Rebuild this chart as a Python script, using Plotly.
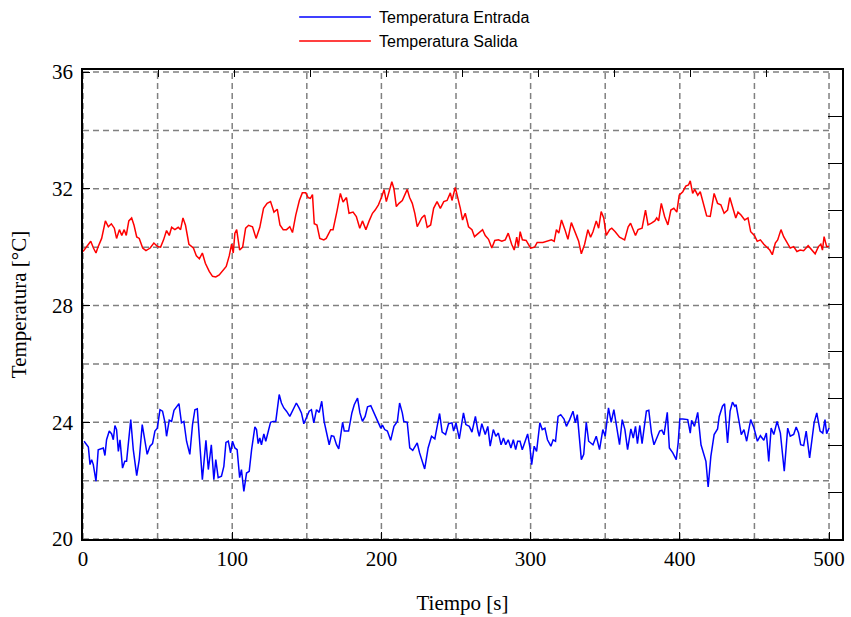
import plotly.graph_objects as go

# ---------------- data (time [s], temperature [°C]) ----------------
salida_pts = [
    (0, 29.85), (2.2, 30.0), (4, 30.15), (5.2, 30.2), (7, 29.97), (8.7, 29.8), (10, 30.0), (12.5, 30.3),
    (15, 30.9), (17, 30.7), (19, 30.8), (21, 30.65), (22.5, 30.3), (24.4, 30.6), (26, 30.4), (27.6, 30.6),
    (29, 30.4), (30.7, 30.9), (32.6, 31.0), (34.2, 30.75), (36, 30.35), (37.7, 30.3), (40, 29.97), (42.2, 29.88),
    (45, 29.97), (47.5, 30.14), (50, 30.02), (52, 30.0), (54, 30.25), (56, 30.57), (57.8, 30.4), (59.4, 30.68),
    (61.6, 30.6), (63.8, 30.68), (65.4, 30.6), (67, 31.0), (68.7, 30.75), (71, 30.1), (74, 29.97), (76, 29.7),
    (78, 29.6), (80, 29.8), (82, 29.45), (84.6, 29.17), (86.8, 29.0), (89, 28.98), (91.3, 29.05), (94, 29.2),
    (96, 29.34), (98, 29.7), (99.6, 30.1), (100.7, 29.8), (101.8, 30.48), (103, 30.6), (105, 29.9), (107, 30.0),
    (109, 30.65), (111, 30.75), (113.6, 30.7), (116, 30.3), (118.5, 30.68), (121, 31.33), (123.4, 31.5), (125.7, 31.56),
    (128, 31.2), (130.2, 31.3), (132, 30.76), (134.2, 30.6), (136.4, 30.6), (138.6, 30.7), (140.4, 30.5), (142.6, 31.1),
    (145, 31.6), (147, 31.86), (149.3, 31.86), (150.9, 31.7), (152.4, 31.67), (153.8, 31.8), (155, 30.8), (156.8, 30.76),
    (158.7, 30.3), (161.4, 30.25), (163, 30.3), (166, 30.6), (167.6, 30.6), (170.3, 31.25), (172.5, 31.84), (174.3, 31.55),
    (176.6, 31.7), (178.3, 31.16), (181, 31.2), (183.2, 31.05), (185.5, 30.65), (187.3, 30.9), (189.6, 30.6), (191.8, 30.9),
    (194, 31.16), (195.8, 31.27), (198, 31.45), (200, 31.7), (201.8, 31.97), (203.3, 31.56), (205, 31.84), (207, 32.24),
    (208.4, 32.0), (210, 31.39), (211.8, 31.5), (214, 31.6), (217.3, 31.98), (218.9, 31.7), (220.7, 31.5), (222.4, 31.16),
    (224, 30.7), (227, 31.0), (229, 31.1), (230.7, 30.68), (233, 30.76), (235, 31.33), (237.3, 31.56), (239.5, 31.33),
    (241.8, 31.56), (244, 31.6), (246.2, 31.86), (247.3, 31.6), (249.5, 32.05), (251.3, 31.7), (252.9, 31.33), (254.4, 30.93),
    (256.2, 31.16), (258.4, 30.7), (260.7, 30.6), (262.4, 30.36), (265, 30.48), (267.8, 30.6), (269.6, 30.4), (271.8, 30.27),
    (274, 29.97), (276, 30.23), (278.4, 30.25), (280.7, 30.2), (283, 30.25), (285, 30.48), (287.3, 30.1), (289, 29.9),
    (290.7, 30.34), (291.8, 30.02), (293, 30.53), (294.5, 30.25), (297, 30.23), (300, 29.97), (302.7, 30.0), (304.4, 30.16),
    (308.2, 30.16), (311.8, 30.2), (314, 30.25), (315.8, 30.2), (317.3, 30.6), (318.9, 30.48), (320.7, 30.93), (323, 30.6),
    (325, 30.27), (327.3, 30.84), (330, 30.5), (332.2, 30.2), (334, 29.77), (336.2, 30.1), (338.4, 30.6), (340.2, 30.34),
    (341.8, 30.53), (344, 30.9), (345.6, 30.65), (347.3, 31.22), (349, 31.0), (350.7, 30.4), (353, 30.6), (354.4, 30.65),
    (356.7, 30.53), (359.6, 30.34), (363, 30.25), (365.4, 30.7), (367, 30.82), (368.8, 30.6), (370.3, 30.4), (372, 30.6),
    (374.7, 30.65), (377, 31.27), (378.7, 30.76), (381, 30.82), (383.2, 30.9), (384.5, 31.0), (385.8, 30.9), (387.6, 31.5),
    (389.8, 31.05), (392, 30.76), (394, 31.27), (396, 31.33), (398, 31.2), (399.6, 31.78), (402, 31.9), (404, 32.09),
    (405.8, 32.13), (407, 32.27), (408.6, 31.84), (410, 31.98), (412, 31.78), (413.7, 31.9), (416, 31.5), (418, 31.07),
    (420.4, 31.05), (423, 31.84), (425.3, 31.5), (427.5, 31.45), (429.7, 31.16), (432, 31.27), (433.5, 31.7), (435.3, 31.36),
    (437.5, 31.0), (439, 31.2), (441, 31.1), (443.5, 30.93), (445.7, 31.0), (447.5, 30.53), (450, 30.4), (451.9, 30.2),
    (454, 30.25), (456.3, 30.1), (458.5, 29.97), (460.3, 29.9), (462, 29.74), (464, 30.14), (465.6, 30.25), (467.8, 30.6),
    (469.6, 30.36), (471.8, 30.14), (474, 29.97), (476.3, 30.02), (478.5, 29.85), (480.7, 29.9), (483, 29.88), (486, 30.05),
    (488.4, 29.9), (490.7, 29.77), (492.9, 30.02), (494.5, 30.1), (495.6, 29.9), (496.7, 30.36), (498.4, 30.02), (500, 30.02),
]

entrada_pts = [
    (0.7, 23.35), (2.5, 23.2), (3.6, 23.15), (4.7, 22.55), (5.8, 22.72), (6.9, 22.55), (8.7, 21.98), (10.2, 23.06),
    (11.8, 23.1), (13.6, 23.12), (14.7, 22.86), (15.8, 23.4), (17.6, 23.7), (19.2, 23.6), (20.3, 23.4), (21.4, 23.89),
    (22.5, 23.75), (23.7, 23.0), (24.8, 23.4), (26.5, 22.43), (28, 22.66), (29.2, 22.66), (32, 24.09), (33.7, 23.06),
    (36, 22.17), (37.7, 22.72), (39.7, 23.92), (41.5, 23.4), (43, 22.9), (44.9, 23.18), (46.6, 23.27), (48.2, 23.7),
    (49.8, 23.8), (51.6, 24.43), (53.3, 24.38), (55, 23.98), (56, 23.52), (57.8, 24.07), (59.4, 24.03), (61, 24.41),
    (62.7, 24.53), (64.3, 24.64), (66, 23.98), (67.6, 24.03), (69.4, 23.35), (71.6, 22.9), (73.4, 23.92), (75, 24.43),
    (76.6, 24.46), (78.3, 23.23), (80, 22.03), (82.4, 23.38), (84, 22.38), (86, 23.23), (87.7, 22.03), (89, 22.72),
    (90.6, 22.1), (92.8, 22.15), (94.4, 22.49), (95.8, 23.31), (97.4, 23.35), (98.9, 22.95), (100.2, 23.35), (101.8, 23.12),
    (103.3, 23.06), (105, 22.1), (106.2, 22.38), (107.8, 21.63), (109.6, 22.26), (111.4, 22.32), (113, 23.06), (115.2, 23.84),
    (116.3, 23.75), (117.4, 23.27), (118.5, 23.46), (119.6, 23.23), (121.2, 23.6), (122.5, 23.35), (124.1, 23.63), (125.7, 24.0),
    (127.5, 24.03), (129.2, 24.03), (131.5, 24.95), (133, 24.66), (134.6, 24.49), (136.4, 24.38), (138.6, 24.2), (140.8, 24.41),
    (143, 24.66), (144.8, 24.49), (146.4, 24.32), (148, 23.95), (149.8, 24.2), (151.6, 24.38), (153.1, 24.43), (154.7, 23.98),
    (156.5, 24.43), (158.3, 24.34), (160, 24.72), (161.6, 24.03), (163, 23.7), (165, 23.23), (166.5, 23.54), (168.1, 23.52),
    (169.9, 23.23), (171.4, 23.09), (174, 24.0), (175.1, 23.7), (178, 23.7), (180.2, 24.32), (181.8, 24.6), (184, 24.83),
    (185.6, 24.32), (187.3, 24.03), (189.1, 24.2), (190.7, 24.53), (192.9, 24.57), (194.4, 24.38), (196.2, 24.15), (198, 23.98),
    (199.6, 23.8), (200.7, 23.9), (202.2, 23.75), (204, 23.7), (206.2, 23.38), (208.4, 23.86), (210.7, 24.03), (212.2, 24.66),
    (214, 24.32), (215, 24.03), (217.3, 24.0), (219, 23.12), (221, 23.04), (224, 23.29), (225.6, 22.95), (227.3, 22.66),
    (229, 22.4), (231.3, 23.12), (233.6, 23.52), (235.8, 23.43), (238, 23.98), (239, 24.3), (240.7, 23.66), (243, 23.58),
    (245, 23.95), (247.3, 23.98), (248.4, 23.7), (250, 23.98), (252.2, 23.43), (255, 24.32), (256.6, 23.92), (258.9, 23.86),
    (260.7, 23.66), (263, 24.2), (264.7, 23.7), (265.6, 23.52), (267.3, 23.95), (269.6, 23.58), (271.3, 23.86), (272.9, 23.18),
    (275, 23.75), (276.7, 23.52), (278.4, 23.63), (280.2, 23.23), (281.8, 23.46), (283.3, 23.23), (285, 23.4), (286.8, 23.12),
    (288.4, 23.4), (290, 23.06), (291.3, 23.35), (292.9, 23.35), (294.4, 23.06), (296.2, 23.35), (298, 23.6), (299.6, 23.12),
    (300.7, 22.55), (302.4, 23.18), (304, 23.0), (306.2, 23.98), (307.8, 23.75), (309.6, 23.8), (311.3, 23.4), (313.6, 23.18),
    (315.1, 23.4), (316.7, 23.35), (318.4, 24.2), (320.2, 24.26), (322.4, 24.11), (324, 23.86), (326.2, 24.09), (328.4, 24.38),
    (330, 23.98), (331.3, 24.26), (334, 22.72), (335.6, 22.9), (337.3, 24.0), (338.9, 23.35), (341.8, 23.23), (344, 23.52),
    (346.2, 23.06), (348.4, 23.75), (350, 23.52), (352.2, 24.49), (354, 24.0), (355.8, 24.43), (357.3, 23.92), (359.6, 23.23),
    (361.4, 24.09), (363.2, 23.75), (365, 23.06), (367.2, 23.77), (368.8, 23.46), (370.3, 23.86), (371.6, 23.27), (373.2, 23.89),
    (374.7, 23.27), (376, 23.7), (377.6, 24.38), (379.2, 24.41), (381, 23.63), (382.7, 23.23), (385, 23.52), (386.5, 23.7),
    (388, 23.73), (389.4, 23.57), (391.6, 24.34), (393, 23.12), (395.3, 22.95), (397.6, 22.72), (398.9, 23.29), (400, 24.11),
    (402, 24.11), (405.3, 24.09), (407, 23.63), (407.9, 24.07), (409.8, 23.86), (412, 24.34), (414.2, 23.23), (416, 22.9),
    (417.5, 22.66), (419, 21.78), (420.8, 22.83), (423, 23.58), (425.3, 23.77), (426.4, 24.2), (428.6, 24.55), (430, 24.63),
    (432, 23.29), (433.7, 24.38), (435.3, 24.69), (436.8, 24.55), (437.7, 24.6), (439.7, 24.03), (441.2, 23.58), (443, 23.75),
    (444.8, 23.35), (447.5, 24.09), (449.7, 23.8), (452, 23.35), (454, 23.54), (456.3, 23.38), (458, 23.63), (459.6, 22.66),
    (461.2, 23.8), (463, 23.58), (465.2, 24.03), (467.4, 23.63), (470, 22.32), (472.3, 23.8), (474, 23.52), (476.3, 23.58),
    (478, 23.84), (479.6, 23.63), (481, 23.23), (483, 23.2), (484.7, 23.7), (487, 22.78), (488.6, 23.35), (490, 23.98),
    (491.8, 24.32), (494, 23.7), (495.8, 23.63), (497.3, 24.09), (498.4, 23.61), (500, 23.8),
]

series_names = ["Temperatura Entrada", "Temperatura Salida"]
series_colors = ["#0000FF", "#FF0000"]
x_ticks = [0, 100, 200, 300, 400, 500]
y_ticks = [20, 24, 28, 32, 36]
x_range = [0, 508.7]
y_range = [20, 36.07]

entrada_t = [p[0] for p in entrada_pts]
entrada_v = [p[1] for p in entrada_pts]
salida_t = [p[0] for p in salida_pts]
salida_v = [p[1] for p in salida_pts]

SERIF = "Liberation Serif, Times New Roman, serif"
SANS = "Liberation Sans, Arial, sans-serif"
GRID = "#808080"

fig = go.Figure()
fig.add_trace(go.Scatter(x=entrada_t, y=entrada_v, mode="lines", name=series_names[0],
                         line=dict(color=series_colors[0], width=1.5), showlegend=False))
fig.add_trace(go.Scatter(x=salida_t, y=salida_v, mode="lines", name=series_names[1],
                         line=dict(color=series_colors[1], width=1.5), showlegend=False))
# invisible trace to create top/right tick-only axes
fig.add_trace(go.Scatter(x=[0, 10], y=[0, 10], xaxis="x2", yaxis="y2", mode="lines",
                         line=dict(width=0), hoverinfo="skip", showlegend=False, opacity=0))

# dashed grid lines
for xv in range(0, 501, 50):
    fig.add_shape(type="line", xref="x", yref="paper", x0=xv, x1=xv, y0=0, y1=1,
                  line=dict(color=GRID, width=1.5, dash="6px,4px"), layer="below")
for yv in range(20, 37, 2):
    fig.add_shape(type="line", xref="paper", yref="y", x0=0, x1=500 / x_range[1], y0=yv, y1=yv,
                  line=dict(color=GRID, width=1.5, dash="6px,4px"), layer="below")

# manual legend
leg_y = [1.1128, 1.0617]
for i in range(2):
    fig.add_shape(type="line", xref="paper", yref="paper", x0=0.2848, x1=0.3793, y0=leg_y[i], y1=leg_y[i],
                  line=dict(color=series_colors[i], width=1.5))
    fig.add_annotation(xref="paper", yref="paper", x=0.388, y=leg_y[i], text=series_names[i],
                       showarrow=False, xanchor="left", yanchor="middle",
                       font=dict(family=SANS, size=16, color="black"))

fig.update_layout(
    width=851, height=617,
    margin=dict(l=83, r=6, t=70, b=77),
    paper_bgcolor="white", plot_bgcolor="white",
    xaxis=dict(range=x_range, tickvals=x_ticks, ticks="inside", ticklen=7, tickcolor="black",
               showgrid=False, zeroline=False, showline=True, linecolor="black", linewidth=1.5, mirror=True,
               tickfont=dict(family=SERIF, size=21, color="black"),
               title=dict(text="Tiempo [s]", font=dict(family=SERIF, size=21, color="black"), standoff=25)),
    yaxis=dict(range=y_range, tickvals=y_ticks, ticks="inside", ticklen=7, tickcolor="black",
               showgrid=False, zeroline=False, showline=True, linecolor="black", linewidth=1.5, mirror=True,
               tickfont=dict(family=SERIF, size=21, color="black"), ticklabelstandoff=4,
               title=dict(text="Temperatura [°C]", font=dict(family=SERIF, size=21, color="black"), standoff=20)),
    xaxis2=dict(range=[0, 10], overlaying="x", side="top", anchor="y2", tickvals=list(range(11)),
                ticks="inside", ticklen=7, tickcolor="black", showticklabels=False,
                showgrid=False, zeroline=False, showline=False),
    yaxis2=dict(range=[0, 10], overlaying="y", side="right", anchor="x2", tickvals=list(range(11)),
                ticks="inside", ticklen=14, tickcolor="black", showticklabels=False,
                showgrid=False, zeroline=False, showline=False),
)

fig.write_html("out.html", config={"displayModeBar": False},
               post_script="document.body.style.margin='0px';document.body.style.overflow='hidden';")
